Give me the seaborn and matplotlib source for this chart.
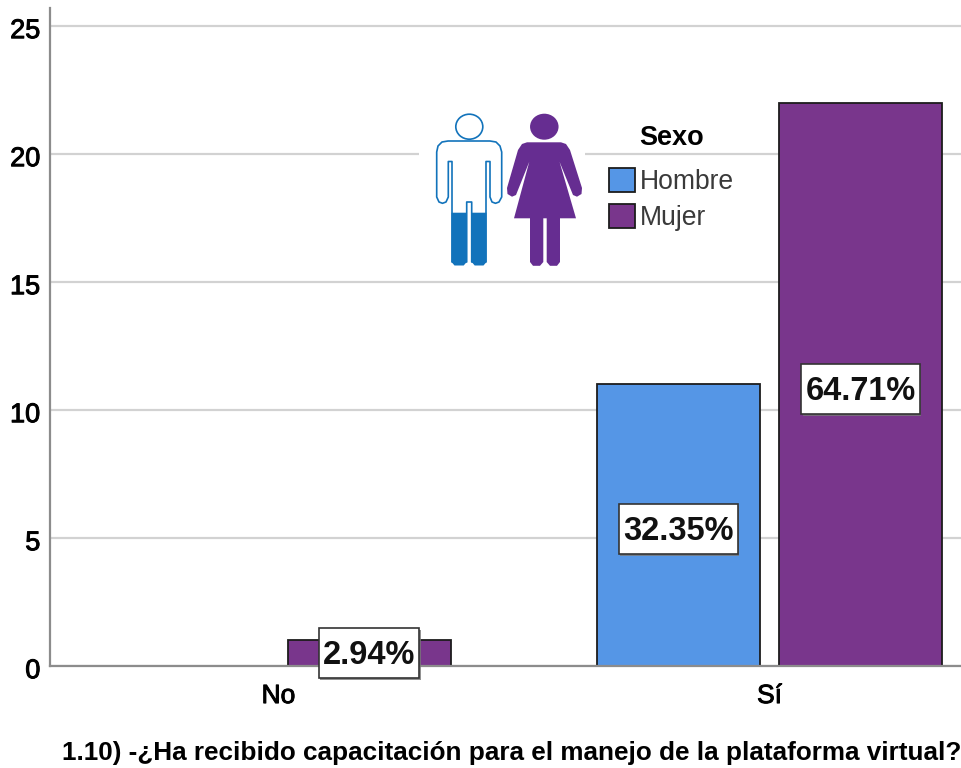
import matplotlib
matplotlib.use("Agg")
import matplotlib.pyplot as plt
import matplotlib.patheffects as pe
from matplotlib.patches import Ellipse, Polygon, Rectangle
from matplotlib.path import Path
from matplotlib.transforms import ScaledTranslation
import pandas as pd
import seaborn as sns

respuesta = ["No", "Sí", "Sí"]
sexo = ["Mujer", "Hombre", "Mujer"]
recuento = [1, 11, 22]
orden_respuesta = ["No", "Sí"]
orden_sexo = ["Hombre", "Mujer"]
etiquetas_hombre = ["32.35%"]
etiquetas_mujer = ["2.94%", "64.71%"]
yticks = [0, 5, 10, 15, 20, 25]
titulo_x = "1.10) -¿Ha recibido capacitación para el manejo de la plataforma virtual?"

AZUL = "#5596E6"
MORADO = "#79368C"
AZUL_ICONO = "#1273BB"
MORADO_ICONO = "#662D91"

sns.set_style("white")
plt.rcParams["font.family"] = ["Liberation Sans", "DejaVu Sans"]
plt.rcParams["text.color"] = "black"
plt.rcParams["xtick.color"] = "black"
plt.rcParams["ytick.color"] = "black"
plt.rcParams["axes.labelcolor"] = "black"


def caja_etiqueta(x0, y0, w, h, ms):
    # caja de altura fija centrada sobre las cifras
    xc = x0 + w / 2
    yc = y0 + h * 0.58
    mw = w / 2 + 0.12 * ms
    mh = 0.76 * ms
    return Path([(xc - mw, yc - mh), (xc + mw, yc - mh), (xc + mw, yc + mh), (xc - mw, yc + mh), (xc - mw, yc - mh)],
                closed=True)


df = pd.DataFrame({"respuesta": respuesta, "sexo": sexo, "recuento": recuento})

fig = plt.figure(figsize=(9.62, 7.68), dpi=100)
ax = fig.add_axes([50 / 962, (768 - 666) / 768, 912 / 962, (666 - 8) / 768])

sns.barplot(data=df, x="respuesta", y="recuento", hue="sexo",
            order=orden_respuesta, hue_order=orden_sexo,
            palette=[AZUL, MORADO], width=0.7413, gap=0.1044,
            edgecolor="#1c1c1c", linewidth=1.3, saturation=1, ax=ax)

ax.set_xlim(-0.465, 1.392)
ax.set_ylim(0, 25.7)
ax.set_yticks(yticks)
ax.set_axisbelow(True)
ax.grid(axis="y", color="#d2d2d2", linewidth=1.6)
ax.grid(axis="x", visible=False)
ax.tick_params(axis="y", length=0, labelsize=19.5, pad=7)
ax.tick_params(axis="x", length=0, labelsize=19, pad=13)
grosor = [pe.withStroke(linewidth=0.7, foreground="black")]
bajar = ScaledTranslation(0, -1.6 / 72, fig.dpi_scale_trans)
for t in ax.get_yticklabels():
    t.set_path_effects(grosor)
    t.set_transform(t.get_transform() + bajar)
for t in ax.get_xticklabels():
    t.set_path_effects(grosor)
ax.set_ylabel("")
ax.set_xlabel(titulo_x, fontsize=18.8, fontweight="bold", ha="left", x=12 / 912, labelpad=24)

sns.despine(ax=ax)
for lado in ["left", "bottom"]:
    ax.spines[lado].set_color("#8c8c8c")
    ax.spines[lado].set_linewidth(1.6)

# etiquetas de porcentaje con caja blanca y sombra
bajadas = {"32.35%": 4.7, "2.94%": 1.5, "64.71%": 5.1}
for cont, etiquetas in zip(ax.containers, [etiquetas_hombre, etiquetas_mujer]):
    textos = ax.bar_label(cont, labels=etiquetas, label_type="center", fontsize=23.5,
                          fontweight="bold", color="#111111", zorder=5,
                          bbox=dict(boxstyle=caja_etiqueta, facecolor="white",
                                    edgecolor="#333333", linewidth=1.2))
    for t, e in zip(textos, etiquetas):
        t.xyann = (0, -bajadas[e])
        t.get_bbox_patch().set_path_effects(
            [pe.SimplePatchShadow(offset=(0.8, -1.4), shadow_rgbFace="#777777", alpha=0.8), pe.Normal()])

leg = ax.legend(title="Sexo", loc="upper left", bbox_to_anchor=(559 / 912, (666 - 125) / 658),
                frameon=False, fontsize=19.1, handlelength=0.98, handleheight=1.05,
                handletextpad=0.2, labelspacing=0.33, borderpad=0, borderaxespad=0)
leg.get_title().set_fontsize(19.5)
leg.get_title().set_fontweight("bold")
leg._legend_box.sep = 12
for t in leg.get_texts():
    t.set_color("#3a3a3a")

# capa en pixeles para los iconos
capa = fig.add_axes([0, 0, 1, 1], zorder=10)
capa.set_xlim(0, 962)
capa.set_ylim(768, 0)
capa.axis("off")
capa.patch.set_alpha(0)

capa.add_patch(Rectangle((419, 105), 166, 168, facecolor="white", edgecolor="none"))

# hombre
capa.add_patch(Ellipse((469.3, 126.7), 27, 25, facecolor="white", edgecolor=AZUL_ICONO, linewidth=1.2))
hombre = [(448, 141), (490, 141), (496, 142), (500, 146), (501.7, 152), (501.7, 197), (499, 202), (495.5, 203.3),
          (492, 202), (490, 197), (490, 161.5), (486, 161.5), (486, 262), (471.7, 262), (471.7, 202),
          (466.7, 202), (466.7, 262), (452, 262), (452, 161.5), (448.3, 161.5), (448.3, 197),
          (446, 202), (442.5, 203.3), (439, 202), (436.7, 197), (436.7, 152), (438, 146), (442, 142)]
capa.add_patch(Polygon(hombre, closed=True, facecolor="white", edgecolor=AZUL_ICONO,
                       linewidth=1.2, joinstyle="round"))
for x0, x1 in [(451.5, 466.7), (471.7, 486.5)]:
    capa.add_patch(Polygon([(x0, 212.7), (x1, 212.7), (x1, 262), (x1 - 3, 265.5), (x0 + 3, 265.5), (x0, 262)],
                           closed=True, facecolor=AZUL_ICONO, edgecolor="none"))

# mujer
capa.add_patch(Ellipse((544.3, 126.7), 28.5, 26, facecolor=MORADO_ICONO, edgecolor="none"))
mujer = [(527, 142.3), (561, 142.3), (566, 144), (570, 150), (582, 188), (581.5, 194), (577, 196.7),
         (573, 195), (559.5, 161.7), (576, 218.3), (560, 218.3), (560, 262), (557, 265.8), (550, 265.8),
         (546.7, 262), (546.7, 218.3), (543.3, 218.3), (543.3, 262), (540, 265.8), (533, 265.8),
         (530, 262), (530, 218.3), (514, 218.3), (529.3, 161.7), (516, 195), (512, 196.7), (507.5, 194),
         (507, 188), (518, 150), (522, 144)]
capa.add_patch(Polygon(mujer, closed=True, facecolor=MORADO_ICONO, edgecolor="none"))

fig.savefig("out.png", dpi=100)
